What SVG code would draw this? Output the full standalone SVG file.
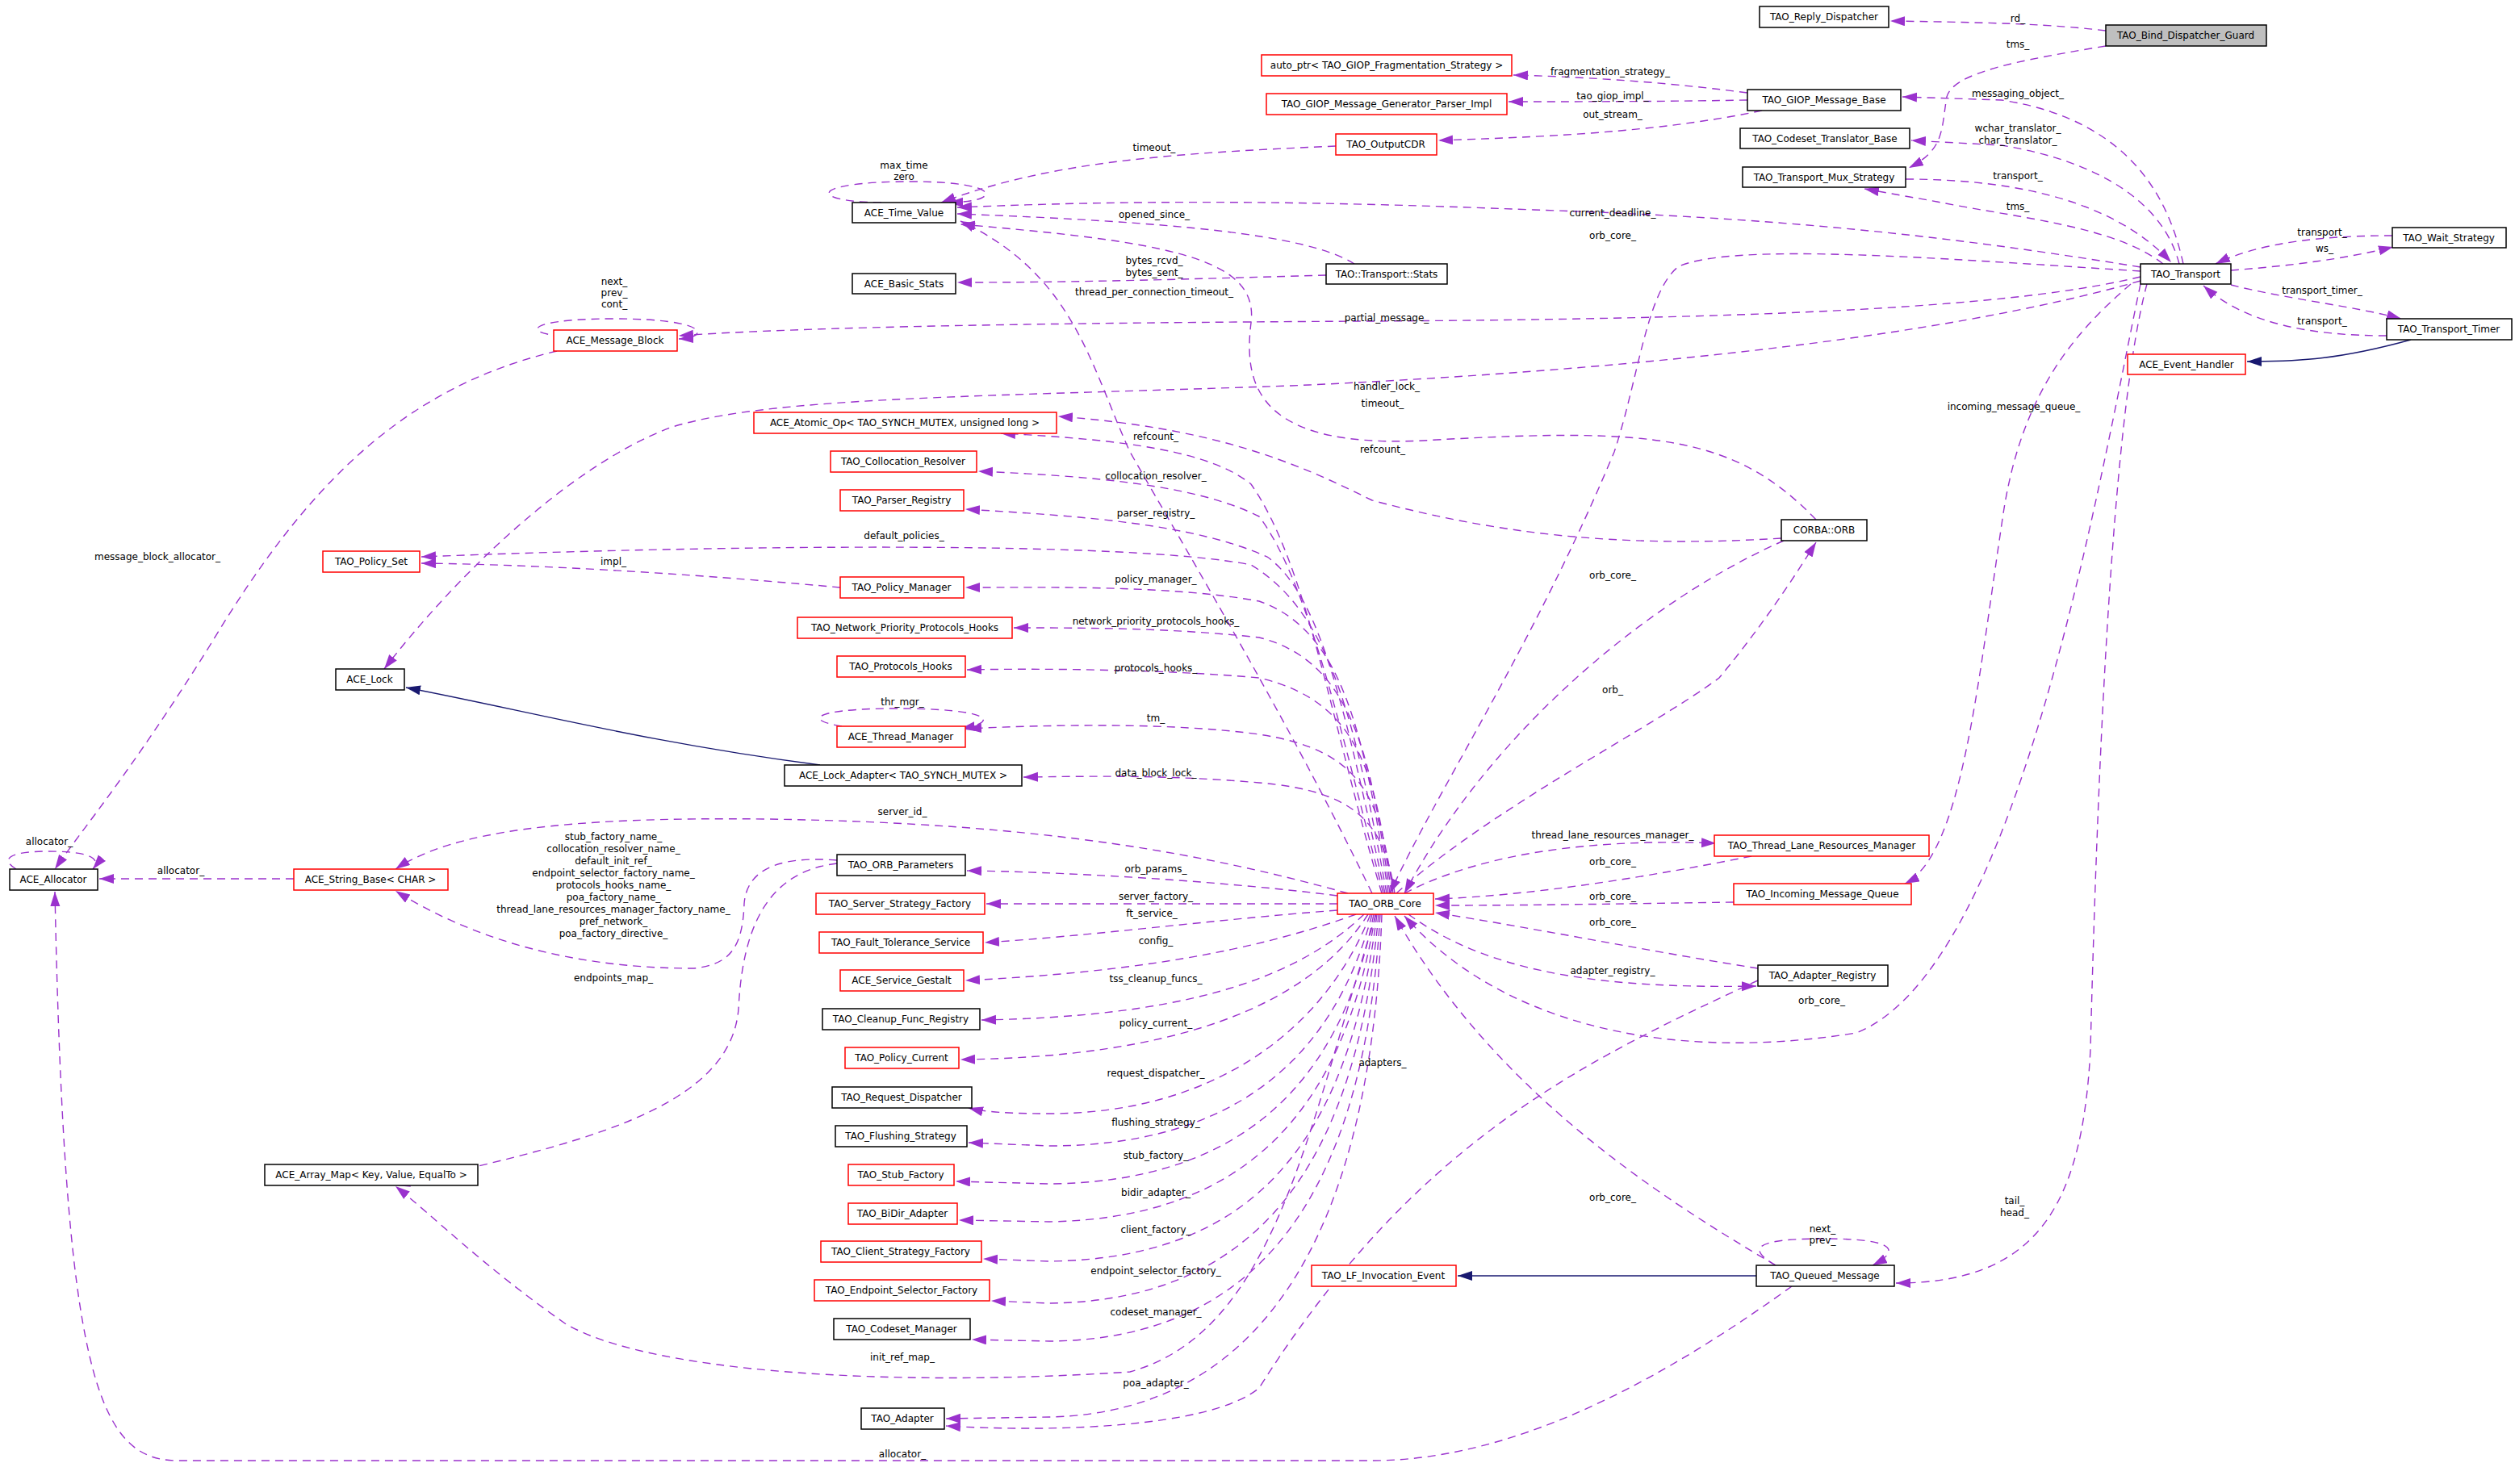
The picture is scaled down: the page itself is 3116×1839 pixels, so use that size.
<svg xmlns="http://www.w3.org/2000/svg" width="3116" height="1839" viewBox="0 0 3116 1839">
<style>
.b{fill:#fff;stroke:#000;stroke-width:1.5}
.r{fill:#fff;stroke:#f00;stroke-width:1.5}
.g{fill:#bfbfbf;stroke:#000;stroke-width:1.5}
text{font-family:"DejaVu Sans","Liberation Sans",sans-serif;font-size:12px;fill:#000;text-anchor:middle}
.e{fill:none;stroke:#9a32cd;stroke-width:1.4;stroke-dasharray:10,7;marker-end:url(#a)}
.n{fill:none;stroke:#191970;stroke-width:1.4;marker-end:url(#nb)}
</style>
<defs>
<marker id="a" markerUnits="userSpaceOnUse" markerWidth="20" markerHeight="14" refX="18" refY="6" orient="auto"><path d="M0,0 L18,6 L0,12 z" fill="#9a32cd"/></marker>
<marker id="nb" markerUnits="userSpaceOnUse" markerWidth="20" markerHeight="14" refX="18" refY="6" orient="auto"><path d="M0,0 L18,6 L0,12 z" fill="#191970"/></marker>
</defs>
<rect width="3116" height="1839" fill="#fff"/>
<g id="edges">
<path class="e" d="M2609,38 C2540,30 2480,28 2342,26"/><text x="2500" y="27">rd_</text>
<path class="e" d="M2609,57 C2500,75 2420,90 2412,120 C2405,160 2410,185 2365,208"/><text x="2500" y="59">tms_</text>
<path class="e" d="M2705,327 C2690,260 2650,150 2480,124 L2357,120"/><text x="2500" y="120">messaging_object_</text>
<path class="e" d="M2700,327 C2680,250 2600,200 2480,180 L2368,174"/><text x="2500" y="163">wchar_translator_</text><text x="2500" y="178">char_translator_</text>
<path class="e" d="M2361,222 C2500,222 2620,250 2690,325"/><text x="2500" y="222">transport_</text>
<path class="e" d="M2680,327 C2620,280 2500,270 2400,250 L2310,234"/><text x="2500" y="260">tms_</text>
<path class="e" d="M2964,292 C2880,292 2800,300 2745,327"/><text x="2877" y="292">transport_</text>
<path class="e" d="M2764,335 C2830,330 2900,322 2965,306"/><text x="2880" y="312">ws_</text>
<path class="e" d="M2764,353 C2830,370 2920,380 2975,395"/><text x="2877" y="364">transport_timer_</text>
<path class="e" d="M2957,416 C2860,416 2780,400 2730,354"/><text x="2877" y="402">transport_</text>
<path class="n" d="M2987,421 C2900,445 2850,448 2784,448"/>
<path class="e" d="M2165,115 C2050,100 1950,95 1875,93"/><text x="1995" y="93">fragmentation_strategy_</text>
<path class="e" d="M2165,124 C2050,126 1950,126 1869,126"/><text x="1998" y="123">tao_giop_impl_</text>
<path class="e" d="M2183,137 C2050,165 1900,170 1782,174"/><text x="1998" y="146">out_stream_</text>
<path class="e" d="M1655,181 C1450,190 1300,200 1166,251"/><text x="1430" y="187">timeout_</text>
<path class="e" d="M1092,251 C1000,250 1000,225 1130,225 C1240,225 1245,250 1175,251"/><text x="1120" y="209">max_time</text><text x="1120" y="223">zero</text>
<path class="e" d="M2652,331 C2400,290 2200,270 1900,260 C1600,248 1400,248 1186,257"/><text x="1998" y="268">current_deadline_</text>
<path class="e" d="M1678,327 C1620,290 1450,275 1186,265"/><text x="1430" y="270">opened_since_</text>
<path class="e" d="M1643,341 C1500,345 1350,350 1186,350"/><text x="1430" y="327">bytes_rcvd_</text><text x="1430" y="342">bytes_sent_</text>
<path class="e" d="M1700,1107 C1600,900 1480,700 1400,560 C1350,450 1330,340 1190,274"/><text x="1430" y="366">thread_per_connection_timeout_</text>
<path class="e" d="M2250,644 C2150,540 2050,530 1780,545 C1560,560 1540,480 1550,400 C1560,320 1450,300 1190,278"/><text x="1713" y="504">timeout_</text>
<path class="e" d="M2207,667 C2000,680 1850,660 1700,620 C1600,570 1500,530 1311,516"/><text x="1713" y="561">refcount_</text>
<path class="e" d="M1712,1107 C1650,900 1620,700 1550,600 C1500,560 1400,545 1240,537"/><text x="1432" y="545">refcount_</text>
<path class="e" d="M1714,1107 C1660,900 1620,720 1560,640 C1480,600 1350,590 1212,584"/><text x="1432" y="594">collocation_resolver_</text>
<path class="e" d="M1716,1107 C1670,900 1640,740 1570,690 C1480,650 1350,640 1196,631"/><text x="1432" y="640">parser_registry_</text>
<path class="e" d="M1718,1107 C1680,900 1650,760 1550,700 C1400,670 900,675 522,690"/><text x="1120" y="668">default_policies_</text>
<path class="e" d="M1041,728 C900,715 700,700 522,698"/><text x="760" y="700">impl_</text>
<path class="e" d="M1720,1107 C1690,900 1660,780 1560,745 C1450,725 1300,728 1196,728"/><text x="1432" y="722">policy_manager_</text>
<path class="e" d="M1722,1107 C1700,950 1680,820 1560,790 C1450,778 1350,778 1256,778"/><text x="1432" y="774">network_priority_protocols_hooks_</text>
<path class="e" d="M1724,1107 C1705,970 1690,870 1560,840 C1450,830 1300,828 1198,830"/><text x="1432" y="832">protocols_hooks_</text>
<path class="e" d="M1060,902 C990,895 1000,878 1110,878 C1230,878 1240,895 1190,903"/><text x="1118" y="874">thr_mgr_</text>
<path class="e" d="M1726,1107 C1710,990 1690,930 1560,910 C1450,895 1300,898 1198,903"/><text x="1432" y="894">tm_</text>
<path class="e" d="M1728,1107 C1715,1020 1680,980 1560,970 C1450,960 1350,962 1268,963"/><text x="1432" y="962">data_block_lock_</text>
<path class="n" d="M1016,948 C800,920 650,880 503,852"/>
<path class="e" d="M2652,348 C2400,420 2000,460 1600,478 C1200,492 950,492 830,530 C700,580 560,720 476,829"/><text x="1718" y="483">handler_lock_</text>
<path class="e" d="M2652,343 C2500,380 2200,395 1700,398 C1300,400 1000,405 841,416"/><text x="1718" y="398">partial_message_</text>
<path class="e" d="M730,418 C640,418 640,395 760,395 C880,395 880,418 841,420"/><text x="761" y="353">next_</text><text x="761" y="367">prev_</text><text x="761" y="381">cont_</text>
<path class="e" d="M690,435 C500,480 380,600 260,800 C160,960 100,1030 68,1077"/><text x="195" y="694">message_block_allocator_</text>
<path class="e" d="M20,1077 C0,1065 10,1055 60,1055 C115,1055 125,1065 115,1077"/><text x="61" y="1047">allocator_</text>
<path class="e" d="M364,1089 L123,1089"/><text x="224" y="1083">allocator_</text>
<path class="e" d="M1670,1107 C1500,1060 1300,1020 950,1015 C700,1012 560,1030 490,1077"/><text x="1118" y="1010">server_id_</text>
<path class="e" d="M1037,1066 C960,1060 925,1080 922,1120 C920,1180 900,1195 860,1200 C700,1200 580,1160 490,1104"/>
<text x="760" y="1041">stub_factory_name_</text><text x="760" y="1056">collocation_resolver_name_</text><text x="760" y="1071">default_init_ref_</text><text x="760" y="1086">endpoint_selector_factory_name_</text><text x="760" y="1101">protocols_hooks_name_</text><text x="760" y="1116">poa_factory_name_</text><text x="760" y="1131">thread_lane_resources_manager_factory_name_</text><text x="760" y="1146">pref_network_</text><text x="760" y="1161">poa_factory_directive_</text>
<path class="e" d="M1037,1070 C950,1080 920,1150 915,1250 C905,1380 700,1420 490,1469"/><text x="760" y="1216">endpoints_map_</text>
<path class="e" d="M1705,1133 C1620,1400 1580,1650 1400,1700 C1100,1720 800,1700 700,1640 C600,1570 540,1510 490,1470"/><text x="1118" y="1686">init_ref_map_</text>
<path class="e" d="M1657,1110 C1500,1090 1300,1080 1198,1079"/><text x="1432" y="1081">orb_params_</text>
<path class="e" d="M1657,1120 L1222,1120"/><text x="1432" y="1115">server_factory_</text>
<path class="e" d="M1657,1128 C1500,1140 1350,1160 1220,1168"/><text x="1427" y="1136">ft_service_</text>
<path class="e" d="M1680,1133 C1550,1180 1400,1205 1196,1215"/><text x="1432" y="1170">config_</text>
<path class="e" d="M1690,1133 C1600,1220 1450,1260 1216,1264"/><text x="1432" y="1217">tss_cleanup_funcs_</text>
<path class="e" d="M1695,1133 C1620,1250 1450,1310 1190,1313"/><text x="1432" y="1272">policy_current_</text>
<path class="e" d="M1698,1133 C1640,1280 1500,1380 1300,1380 C1250,1380 1220,1378 1200,1373"/><text x="1432" y="1334">request_dispatcher_</text>
<path class="e" d="M1700,1133 C1650,1320 1520,1420 1300,1420 L1200,1416"/><text x="1432" y="1395">flushing_strategy_</text>
<path class="e" d="M1702,1133 C1660,1350 1530,1465 1300,1467 L1184,1464"/><text x="1432" y="1436">stub_factory_</text>
<path class="e" d="M1704,1133 C1665,1380 1540,1510 1300,1514 L1188,1512"/><text x="1432" y="1482">bidir_adapter_</text>
<path class="e" d="M1706,1133 C1670,1420 1550,1560 1300,1563 L1218,1560"/><text x="1432" y="1528">client_factory_</text>
<path class="e" d="M1708,1133 C1680,1440 1560,1612 1300,1615 L1228,1612"/><text x="1432" y="1579">endpoint_selector_factory_</text>
<path class="e" d="M1710,1133 C1690,1480 1560,1660 1300,1662 L1204,1660"/><text x="1432" y="1630">codeset_manager_</text>
<path class="e" d="M1712,1133 C1700,1500 1580,1750 1300,1756 L1172,1758"/><text x="1432" y="1718">poa_adapter_</text>
<path class="e" d="M2178,1215 C1950,1320 1750,1420 1560,1720 C1500,1770 1300,1775 1172,1767"/><text x="1713" y="1321">adapters_</text>
<path class="e" d="M2220,1594 C2100,1680 1900,1810 1700,1810 L220,1810 C120,1810 80,1700 68,1105"/><text x="1118" y="1806">allocator_</text>
<path class="e" d="M2200,1568 C2160,1545 2180,1535 2260,1535 C2350,1535 2355,1550 2320,1568"/><text x="2258" y="1527">next_</text><text x="2258" y="1541">prev_</text>
<path class="n" d="M2176,1581 L1806,1581"/>
<path class="e" d="M2660,352 C2620,500 2600,900 2590,1300 C2580,1500 2520,1590 2349,1590"/><text x="2496" y="1492">tail_</text><text x="2496" y="1507">head_</text>
<path class="e" d="M2640,352 C2560,420 2500,500 2480,650 C2450,850 2430,1060 2360,1095"/><text x="2495" y="508">incoming_message_queue_</text>
<path class="e" d="M2652,336 C2400,320 2150,300 2080,330 C2040,360 2030,470 2000,560 C1900,800 1780,980 1722,1107"/><text x="1998" y="296">orb_core_</text>
<path class="e" d="M2652,352 C2600,600 2500,1200 2300,1280 C2050,1320 1850,1260 1740,1135"/><text x="2257" y="1244">orb_core_</text>
<path class="e" d="M2210,670 C2050,740 1850,900 1740,1107"/><text x="1998" y="717">orb_core_</text>
<path class="e" d="M1730,1107 C1850,1000 2050,900 2130,840 C2180,780 2220,720 2250,672"/><text x="1998" y="859">orb_</text>
<path class="e" d="M1740,1107 C1850,1050 2000,1040 2126,1045"/><text x="1998" y="1039">thread_lane_resources_manager_</text>
<path class="e" d="M2170,1061 C2050,1085 1900,1110 1778,1114"/><text x="1998" y="1072">orb_core_</text>
<path class="e" d="M2148,1118 C2000,1120 1900,1122 1778,1122"/><text x="1998" y="1115">orb_core_</text>
<path class="e" d="M2178,1200 C2050,1180 1900,1150 1778,1131"/><text x="1998" y="1147">orb_core_</text>
<path class="e" d="M1745,1133 C1850,1210 2000,1225 2176,1222"/><text x="1998" y="1207">adapter_registry_</text>
<path class="e" d="M2200,1568 C2050,1480 1850,1350 1728,1135"/><text x="1998" y="1488">orb_core_</text>
</g>
<g id="n1"><rect class="b" x="2180" y="8" width="160" height="26"/><text x="2260" y="25">TAO_Reply_Dispatcher</text></g>
<g id="n2"><rect class="g" x="2609" y="31" width="199" height="26"/><text x="2708" y="48">TAO_Bind_Dispatcher_Guard</text></g>
<g id="n3"><rect class="b" x="2165" y="111" width="190" height="26"/><text x="2260" y="128">TAO_GIOP_Message_Base</text></g>
<g id="n4"><rect class="b" x="2156" y="159" width="210" height="25"/><text x="2261" y="176">TAO_Codeset_Translator_Base</text></g>
<g id="n5"><rect class="b" x="2159" y="207" width="202" height="25"/><text x="2260" y="224">TAO_Transport_Mux_Strategy</text></g>
<g id="n6"><rect class="b" x="2652" y="327" width="112" height="25"/><text x="2708" y="344">TAO_Transport</text></g>
<g id="n7"><rect class="b" x="2964" y="282" width="141" height="25"/><text x="3034" y="299">TAO_Wait_Strategy</text></g>
<g id="n8"><rect class="b" x="2957" y="395" width="155" height="26"/><text x="3034" y="412">TAO_Transport_Timer</text></g>
<g id="n9"><rect class="r" x="2636" y="439" width="146" height="25"/><text x="2709" y="456">ACE_Event_Handler</text></g>
<g id="n10"><rect class="r" x="1563" y="68" width="310" height="26"/><text x="1718" y="85">auto_ptr&lt; TAO_GIOP_Fragmentation_Strategy &gt;</text></g>
<g id="n11"><rect class="r" x="1569" y="116" width="298" height="26"/><text x="1718" y="133">TAO_GIOP_Message_Generator_Parser_Impl</text></g>
<g id="n12"><rect class="r" x="1655" y="166" width="125" height="26"/><text x="1717" y="183">TAO_OutputCDR</text></g>
<g id="n13"><rect class="b" x="1056" y="251" width="128" height="25"/><text x="1120" y="268">ACE_Time_Value</text></g>
<g id="n14"><rect class="b" x="1056" y="339" width="128" height="25"/><text x="1120" y="356">ACE_Basic_Stats</text></g>
<g id="n15"><rect class="b" x="1643" y="327" width="150" height="25"/><text x="1718" y="344">TAO::Transport::Stats</text></g>
<g id="n16"><rect class="r" x="686" y="409" width="153" height="26"/><text x="762" y="426">ACE_Message_Block</text></g>
<g id="n17"><rect class="r" x="934" y="511" width="375" height="26"/><text x="1121" y="528">ACE_Atomic_Op&lt; TAO_SYNCH_MUTEX, unsigned long &gt;</text></g>
<g id="n18"><rect class="r" x="1029" y="559" width="181" height="26"/><text x="1119" y="576">TAO_Collocation_Resolver</text></g>
<g id="n19"><rect class="r" x="1041" y="607" width="153" height="26"/><text x="1117" y="624">TAO_Parser_Registry</text></g>
<g id="n20"><rect class="r" x="400" y="683" width="120" height="26"/><text x="460" y="700">TAO_Policy_Set</text></g>
<g id="n21"><rect class="r" x="1041" y="715" width="153" height="26"/><text x="1117" y="732">TAO_Policy_Manager</text></g>
<g id="n22"><rect class="r" x="988" y="765" width="266" height="26"/><text x="1121" y="782">TAO_Network_Priority_Protocols_Hooks</text></g>
<g id="n23"><rect class="r" x="1037" y="813" width="159" height="26"/><text x="1116" y="830">TAO_Protocols_Hooks</text></g>
<g id="n24"><rect class="b" x="416" y="829" width="85" height="26"/><text x="458" y="846">ACE_Lock</text></g>
<g id="n25"><rect class="r" x="1037" y="900" width="159" height="26"/><text x="1116" y="917">ACE_Thread_Manager</text></g>
<g id="n26"><rect class="b" x="972" y="948" width="294" height="26"/><text x="1119" y="965">ACE_Lock_Adapter&lt; TAO_SYNCH_MUTEX &gt;</text></g>
<g id="n27"><rect class="b" x="1037" y="1059" width="159" height="26"/><text x="1116" y="1076">TAO_ORB_Parameters</text></g>
<g id="n28"><rect class="r" x="1011" y="1107" width="209" height="26"/><text x="1115" y="1124">TAO_Server_Strategy_Factory</text></g>
<g id="n29"><rect class="r" x="1015" y="1155" width="203" height="26"/><text x="1116" y="1172">TAO_Fault_Tolerance_Service</text></g>
<g id="n30"><rect class="r" x="1041" y="1202" width="153" height="26"/><text x="1117" y="1219">ACE_Service_Gestalt</text></g>
<g id="n31"><rect class="b" x="1019" y="1250" width="195" height="26"/><text x="1116" y="1267">TAO_Cleanup_Func_Registry</text></g>
<g id="n32"><rect class="r" x="1047" y="1298" width="141" height="26"/><text x="1117" y="1315">TAO_Policy_Current</text></g>
<g id="n33"><rect class="b" x="1031" y="1347" width="173" height="26"/><text x="1117" y="1364">TAO_Request_Dispatcher</text></g>
<g id="n34"><rect class="b" x="1035" y="1395" width="163" height="26"/><text x="1116" y="1412">TAO_Flushing_Strategy</text></g>
<g id="n35"><rect class="r" x="1051" y="1443" width="131" height="26"/><text x="1116" y="1460">TAO_Stub_Factory</text></g>
<g id="n36"><rect class="r" x="1051" y="1491" width="135" height="26"/><text x="1118" y="1508">TAO_BiDir_Adapter</text></g>
<g id="n37"><rect class="r" x="1017" y="1538" width="199" height="26"/><text x="1116" y="1555">TAO_Client_Strategy_Factory</text></g>
<g id="n38"><rect class="r" x="1009" y="1586" width="217" height="26"/><text x="1117" y="1603">TAO_Endpoint_Selector_Factory</text></g>
<g id="n39"><rect class="b" x="1033" y="1634" width="169" height="26"/><text x="1117" y="1651">TAO_Codeset_Manager</text></g>
<g id="n40"><rect class="b" x="1067" y="1745" width="103" height="26"/><text x="1118" y="1762">TAO_Adapter</text></g>
<g id="n41"><rect class="b" x="328" y="1443" width="264" height="26"/><text x="460" y="1460">ACE_Array_Map&lt; Key, Value, EqualTo &gt;</text></g>
<g id="n42"><rect class="b" x="12" y="1077" width="109" height="26"/><text x="66" y="1094">ACE_Allocator</text></g>
<g id="n43"><rect class="r" x="364" y="1077" width="191" height="26"/><text x="459" y="1094">ACE_String_Base&lt; CHAR &gt;</text></g>
<g id="n44"><rect class="r" x="1657" y="1107" width="119" height="26"/><text x="1716" y="1124">TAO_ORB_Core</text></g>
<g id="n45"><rect class="b" x="2207" y="644" width="106" height="26"/><text x="2260" y="661">CORBA::ORB</text></g>
<g id="n46"><rect class="r" x="2124" y="1035" width="266" height="26"/><text x="2257" y="1052">TAO_Thread_Lane_Resources_Manager</text></g>
<g id="n47"><rect class="r" x="2148" y="1095" width="220" height="26"/><text x="2258" y="1112">TAO_Incoming_Message_Queue</text></g>
<g id="n48"><rect class="b" x="2178" y="1196" width="161" height="26"/><text x="2258" y="1213">TAO_Adapter_Registry</text></g>
<g id="n49"><rect class="r" x="1625" y="1568" width="179" height="26"/><text x="1714" y="1585">TAO_LF_Invocation_Event</text></g>
<g id="n50"><rect class="b" x="2176" y="1568" width="171" height="26"/><text x="2261" y="1585">TAO_Queued_Message</text></g>
</svg>
